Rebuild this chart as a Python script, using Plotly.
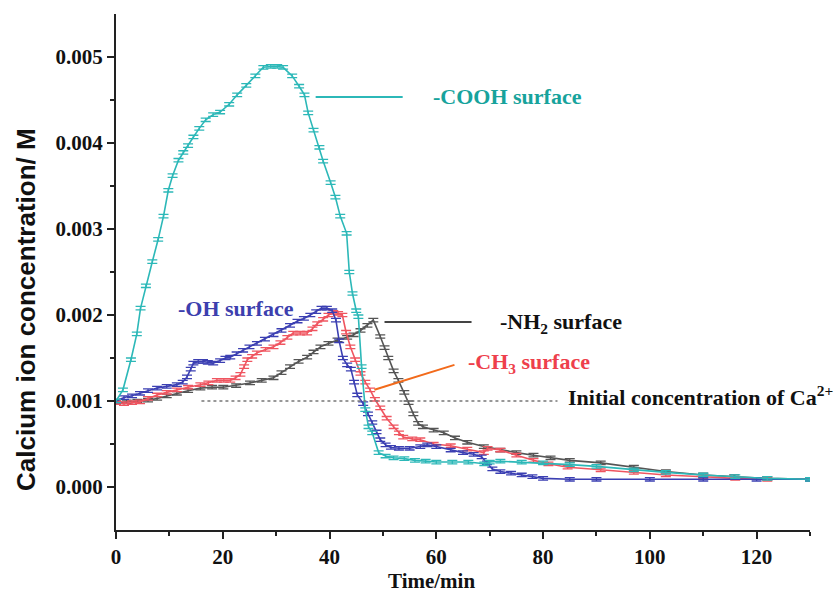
import plotly.graph_objects as go

# ---------------- data ----------------
cooh_t = [0, 1.3, 2.8, 3.9, 4.6, 5.6, 6.8, 7.9, 8.9, 9.8, 10.6, 11.7, 12.6, 13.5, 14.5, 15.6,
          16.8, 18.2, 19.5, 21.2, 22.7, 24.4, 26.1, 27.6, 29.0, 30.2, 31.3, 33.0, 34.3, 35.3,
          36.0, 37.0, 38.1, 38.8, 40.2, 41.1, 42.0, 43.2, 43.7, 44.3, 45.0, 45.4, 46.0, 46.7,
          47.3, 48.0, 49.2, 50.5, 52, 54, 56, 58, 60, 63, 66, 69, 70, 72, 76, 80, 85, 90, 97,
          103, 110, 116, 122, 130]
cooh_c = [0.00100, 0.00113, 0.00148, 0.00178, 0.00208, 0.00234, 0.00262, 0.00288, 0.00315,
          0.00345, 0.00362, 0.00380, 0.00389, 0.00397, 0.00407, 0.00417, 0.00427, 0.00433,
          0.00436, 0.00445, 0.00456, 0.00467, 0.00478, 0.00488, 0.00489, 0.00489, 0.00488,
          0.00478, 0.00466, 0.00456, 0.00435, 0.00415, 0.00395, 0.00379, 0.00354, 0.00337,
          0.00315, 0.00295, 0.00250, 0.00225, 0.00205, 0.00198, 0.00140, 0.00090, 0.00070,
          0.00063, 0.00040, 0.00036, 0.00034, 0.00033, 0.00031, 0.00030, 0.00029, 0.00029,
          0.00029, 0.00027, 0.00029, 0.00030, 0.00029, 0.00028, 0.00026, 0.00024, 0.00020,
          0.00017, 0.00014, 0.00012, 0.00010, 0.00009]

oh_t = [0, 1.5, 3, 4.5, 6, 7.7, 9.5, 11.4, 12.5, 13.3, 14, 14.5, 15.4, 16.3, 17.2, 18.2, 19.5,
        20.5, 21.4, 22.6, 23.8, 25, 26.4, 27.9, 29.5, 31, 32.6, 34, 35.2, 36.4, 37.5, 38.5,
        39.5, 40.5, 41.2, 41.8, 42.5, 43.3, 44, 44.6, 45.2, 46.3, 47.2, 48, 48.8, 49.5, 50.5,
        51.5, 53, 55, 57, 58.3, 60, 62.7, 65, 67, 68.5, 69.5, 70.5, 72, 74, 76, 78, 80, 85,
        90, 100, 110, 120, 130]
oh_c = [0.00100, 0.00104, 0.00106, 0.00109, 0.00112, 0.00115, 0.00117, 0.00119, 0.00122,
        0.00128, 0.00137, 0.00144, 0.00146, 0.00146, 0.00145, 0.00144, 0.00147, 0.00150,
        0.00151, 0.00155, 0.00159, 0.00163, 0.00167, 0.00172, 0.00177, 0.00182, 0.00188,
        0.00193, 0.00196, 0.00200, 0.00204, 0.00208, 0.00208, 0.00205, 0.00194, 0.00170,
        0.00150, 0.00142, 0.00137, 0.00122, 0.00107, 0.00097, 0.00085, 0.00075, 0.00064,
        0.00055, 0.00049, 0.00046, 0.00045, 0.00045, 0.00047, 0.00049, 0.00047, 0.00043,
        0.00040, 0.00038, 0.00035, 0.00028, 0.00021, 0.00018, 0.00016, 0.00014, 0.00012,
        0.00010, 0.00009, 0.00009, 0.00009, 0.00009, 0.00009, 0.00009]

ch3_t = [0, 1.5, 3, 4.5, 6, 7.7, 9.5, 11.4, 13.5, 15.8, 17.3, 18.9, 20.2, 21.4, 22.4, 23.3, 24,
         24.6, 25.5, 26.4, 28, 29.5, 30.8, 32.1, 33.2, 34.5, 35.8, 36.8, 37.7, 38.8, 39.8, 40.7,
         41.6, 42.4, 43.1, 43.9, 44.8, 45.8, 46.7, 47.6, 48.5, 49.5, 50.7, 52, 53, 53.8, 55.5,
         57, 59.5, 62.7, 65.8, 68.9, 69.6, 72, 75, 78.2, 81, 84.6, 90.8, 97, 103, 110, 116,
         122, 130]
ch3_c = [0.00098, 0.00097, 0.00098, 0.00099, 0.00103, 0.00107, 0.00110, 0.00113, 0.00116,
         0.00119, 0.00121, 0.00124, 0.00124, 0.00124, 0.00127, 0.00131, 0.00140, 0.00148,
         0.00152, 0.00156, 0.00160, 0.00163, 0.00168, 0.00174, 0.00179, 0.00179, 0.00179,
         0.00184, 0.00190, 0.00195, 0.00200, 0.00203, 0.00202, 0.00200, 0.00180, 0.00163,
         0.00148, 0.00132, 0.00122, 0.00113, 0.00102, 0.00092, 0.00080, 0.00070, 0.00063,
         0.00058, 0.00056, 0.00055, 0.00050, 0.00048, 0.00044, 0.00040, 0.00045, 0.00043,
         0.00037, 0.00031, 0.00027, 0.00023, 0.00020, 0.00017, 0.00014, 0.00012, 0.00010,
         0.00009, 0.00009]

nh2_t = [0, 2, 4, 6, 7.7, 9.5, 11.4, 13.5, 15.8, 18, 20.1, 22.5, 25.1, 27.3, 29.5, 31, 32.6,
         34.2, 35.8, 37, 38.3, 39.8, 41.5, 43.3, 44.5, 45.8, 47.1, 48.2, 49.5, 50.3, 51, 52,
         52.9, 54, 54.8, 55.7, 56.6, 57.5, 59.5, 61.4, 63.5, 65.8, 68.9, 72, 75, 78.2, 81.4,
         85, 90.8, 97, 103, 110, 115.8, 122, 130]
nh2_c = [0.00098, 0.00099, 0.00100, 0.00101, 0.00103, 0.00106, 0.00109, 0.00112, 0.00115,
         0.00116, 0.00116, 0.00118, 0.00121, 0.00124, 0.00127, 0.00133, 0.00140, 0.00146,
         0.00151, 0.00157, 0.00163, 0.00167, 0.00171, 0.00174, 0.00177, 0.00182, 0.00188,
         0.00194, 0.00175, 0.00162, 0.00150, 0.00135, 0.00124, 0.00110, 0.00098, 0.00085,
         0.00074, 0.00070, 0.00066, 0.00063, 0.00057, 0.00052, 0.00047, 0.00043, 0.00040,
         0.00037, 0.00034, 0.00031, 0.00028, 0.00023, 0.00018, 0.00014, 0.00012, 0.00010,
         0.00009]

initial_conc = 0.001
y_ticks = [0.000, 0.001, 0.002, 0.003, 0.004, 0.005]
x_ticks = [0, 20, 40, 60, 80, 100, 120]

# ---------------- style ----------------
C_COOH = "#2cb8b8"
C_OH = "#3b3fb2"
C_CH3 = "#ef5560"
C_NH2 = "#555555"
SERIF = "Liberation Serif, Times New Roman, serif"
SANS = "Liberation Sans, Arial, sans-serif"

fig = go.Figure()

def add_series(t, c, color, err):
    fig.add_trace(go.Scatter(
        x=t, y=c, mode="lines", line=dict(color=color, width=1.6),
        error_y=dict(type="constant", value=err, width=5, thickness=1.3, color=color),
        showlegend=False, hoverinfo="x+y"))

add_series(nh2_t, nh2_c, C_NH2, 0.00002)
add_series(ch3_t, ch3_c, C_CH3, 0.00002)
add_series(oh_t, oh_c, C_OH, 0.00002)
add_series(cooh_t, cooh_c, C_COOH, 0.00002)

# dotted initial-concentration line
fig.add_shape(type="line", x0=16, x1=82.7, y0=initial_conc, y1=initial_conc,
              xref="x", yref="y", line=dict(color="#777777", width=1.6, dash="dot"))

# leader lines
fig.add_shape(type="line", x0=37.4, x1=53.7, y0=0.004535, y1=0.004535,
              line=dict(color=C_COOH, width=2))
fig.add_shape(type="line", x0=50.3, x1=66.6, y0=0.00192, y1=0.00192,
              line=dict(color="#444444", width=2))
fig.add_shape(type="line", x0=48.4, x1=63.4, y0=0.00113, y1=0.00142,
              line=dict(color="#f26a1b", width=2))

def label(text, x, y, color, size=22):
    fig.add_annotation(x=x, y=y, xref="x", yref="y", text=text, showarrow=False,
                       xanchor="left", yanchor="middle",
                       font=dict(family=SERIF, size=size, color=color, weight="bold"))

label("-COOH surface", 59.0, 0.004535, "#17a39c")
label("-OH surface", 11.2, 0.00208, "#3d3fae")
label("-NH<sub>2</sub> surface", 71.6, 0.00191, "#111111")
label("-CH<sub>3</sub> surface", 65.6, 0.00144, "#ee3f4c")
label("Initial concentration of Ca<sup>2+</sup>", 84.2, 0.00106, "#111111")

# axis titles
fig.add_annotation(x=-0.13, y=0.428, xref="paper", yref="paper",
                   text="Calcium ion concentration/ M", showarrow=False, textangle=-90,
                   xanchor="center", yanchor="middle",
                   font=dict(family=SANS, size=26, color="#111111", weight="bold"))
fig.add_annotation(x=0.454, y=-0.098, xref="paper", yref="paper",
                   text="Time/min", showarrow=False, xanchor="center", yanchor="middle",
                   font=dict(family=SERIF, size=21, color="#111111", weight="bold"))

fig.update_layout(
    width=838, height=594,
    margin=dict(l=116, r=28, t=14, b=64),
    plot_bgcolor="white", paper_bgcolor="white",
    showlegend=False,
)
fig.update_xaxes(
    range=[0, 130], tickvals=x_ticks, ticktext=[str(v) for v in x_ticks],
    showgrid=False, zeroline=False, showline=True, linecolor="#222222", linewidth=2,
    ticks="outside", ticklen=7, tickwidth=2, tickcolor="#222222",
    minor=dict(tickvals=[10, 30, 50, 70, 90, 110, 130], ticks="outside", ticklen=4,
               tickwidth=2, tickcolor="#222222"),
    tickfont=dict(family=SERIF, size=21, color="#111111", weight="bold"),
)
fig.update_yaxes(
    range=[-0.0005, 0.0055], tickvals=y_ticks, ticktext=[f"{v:.3f}" for v in y_ticks],
    showgrid=False, zeroline=False, showline=True, linecolor="#222222", linewidth=2,
    ticks="outside", ticklen=7, tickwidth=2, tickcolor="#222222",
    minor=dict(tickvals=[0.0005, 0.0015, 0.0025, 0.0035, 0.0045], ticks="outside",
               ticklen=4, tickwidth=2, tickcolor="#222222"),
    tickfont=dict(family=SERIF, size=21, color="#111111", weight="bold"),
)

fig.write_html("out.html")
